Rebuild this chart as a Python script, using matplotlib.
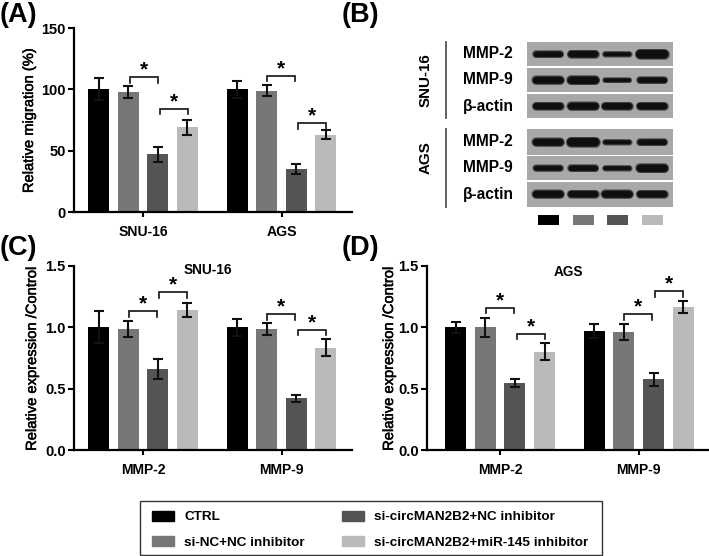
import matplotlib
matplotlib.use('Agg')
import matplotlib.pyplot as plt
from matplotlib.patches import Patch, Rectangle
import matplotlib.patheffects as pe

plt.rcParams['font.family'] = ['Liberation Sans', 'DejaVu Sans']
plt.rcParams['font.weight'] = 'bold'

W, H = 709, 556

# group colours
COLORS = ['#000000', '#777777', '#555555', '#bababa']
GROUP_NAMES = ['CTRL', 'si-NC+NC inhibitor', 'si-circMAN2B2+NC inhibitor', 'si-circMAN2B2+miR-145 inhibitor']

# panel A
a_vals = [100, 98, 47, 69, 100, 99, 35, 63]
a_errs = [9, 5, 6, 6, 7, 4.5, 4, 3.5]
a_labels = ['SNU-16', 'AGS']
a_brackets = [(1.05, 2.0, 110), (2.08, 3.02, 84), (5.70, 6.65, 111), (6.74, 7.68, 72.5)]

# panel C
c_vals = [1.0, 0.99, 0.66, 1.14, 1.0, 0.985, 0.42, 0.835]
c_errs = [0.13, 0.065, 0.08, 0.055, 0.07, 0.05, 0.03, 0.07]
c_labels = ['MMP-2', 'MMP-9']
c_brackets = [(1.02, 1.96, 1.13), (2.04, 2.97, 1.288), (5.69, 6.63, 1.108), (6.73, 7.67, 0.98)]

# panel D
d_vals = [1.0, 1.0, 0.545, 0.80, 0.97, 0.965, 0.575, 1.165]
d_errs = [0.045, 0.08, 0.035, 0.07, 0.06, 0.065, 0.05, 0.05]
d_labels = ['MMP-2', 'MMP-9']
d_brackets = [(1.02, 1.97, 1.158), (2.07, 3.0, 0.946), (5.69, 6.62, 1.108), (6.74, 7.68, 1.293)]

# blot band thickness (px), one row per blot strip
blot_rows = ['MMP-2', 'MMP-9', 'β-actin', 'MMP-2', 'MMP-9', 'β-actin']
blot_bands = [
    [4.5, 5.5, 3, 7.5],
    [6, 6.5, 2.5, 4.5],
    [5.5, 6, 5.5, 5.5],
    [6, 7.5, 3, 4.5],
    [4, 4.5, 3, 6.5],
    [6, 5.5, 6, 5.5],
]

X_POS = [0, 1, 2, 3, 4.68, 5.68, 6.68, 7.68]
X_TICKS = [1.5, 6.18]


def px_axes(fig, left, top, right, bottom):
    return fig.add_axes([left / W, 1 - bottom / H, (right - left) / W, (bottom - top) / H])


def bar_panel(fig, box, vals, errs, labels, brackets, ymax, yticks, ylabel, xlim, label_x, xpad):
    ax = px_axes(fig, *box)
    colors = COLORS + COLORS
    ax.bar(X_POS, vals, width=0.71, color=colors, yerr=errs,
           error_kw=dict(ecolor='#111111', elinewidth=1.5, capsize=3.8, capthick=1.5))
    ax.set_xlim(*xlim)
    ax.set_ylim(0, ymax)
    ax.set_yticks(yticks)
    ax.set_xticks(X_TICKS)
    ax.set_xticklabels(labels, fontsize=10.1)
    ax.tick_params(axis='y', length=4, width=1.5, labelsize=10.5, pad=2)
    ax.tick_params(axis='x', length=3.5, width=1.5, pad=xpad)
    yl = ax.set_ylabel(ylabel, fontsize=10.6, fontweight='normal')
    yl.set_path_effects([pe.withStroke(linewidth=0.35, foreground='black')])
    ax.yaxis.set_label_coords((label_x - box[0]) / (box[2] - box[0]), 0.5)
    for s in ['top', 'right']:
        ax.spines[s].set_visible(False)
    for s in ['left', 'bottom']:
        ax.spines[s].set_linewidth(1.6)
    for x1, x2, y in brackets:
        drop = ymax * 0.03
        ax.plot([x1, x1, x2, x2], [y - drop, y, y, y - drop], color='#111111', lw=1.2,
                solid_joinstyle='miter', clip_on=False)
        ax.text((x1 + x2) / 2, y - ymax * 0.012, '*', ha='center', va='bottom', fontsize=15)
    return ax


fig = plt.figure(figsize=(W / 100, H / 100), dpi=100)

ax_a = bar_panel(fig, (74, 28, 352, 212), a_vals, a_errs, a_labels, a_brackets,
                 150, [0, 50, 100, 150], 'Relative migration (%)', (-0.83, 8.56), 36, 6)
ax_c = bar_panel(fig, (74, 266, 352, 450), c_vals, c_errs, c_labels, c_brackets,
                 1.5, [0, 0.5, 1.0, 1.5], 'Relative expression /Control', (-0.83, 8.56), 39, 5.5)
ax_d = bar_panel(fig, (427, 266, 708, 450), d_vals, d_errs, d_labels, d_brackets,
                 1.5, [0, 0.5, 1.0, 1.5], 'Relative expression /Control', (-0.97, 8.52), 396, 5.5)
ax_c.text(0.482, 0.978, 'SNU-16', transform=ax_c.transAxes, ha='center', va='center', fontsize=9.8)
ax_d.text(0.505, 0.967, 'AGS', transform=ax_d.transAxes, ha='center', va='center', fontsize=9.8)

# overlay in pixel coordinates for panel letters and the blot
ov = fig.add_axes([0, 0, 1, 1])
ov.set_xlim(0, W)
ov.set_ylim(H, 0)
ov.axis('off')
ov.patch.set_alpha(0)

for s, x, y in [('(A)', 0, 15), ('(B)', 342, 15), ('(C)', 0, 248), ('(D)', 342, 248)]:
    ov.text(x, y, s, fontsize=19.5, va='center', ha='left')

strip_tops = [42, 68, 94, 129, 156, 182]
strip_h = [24, 24, 24, 26, 24, 25]
band_x = [548, 583, 617, 652]
for top, h, name, bands in zip(strip_tops, strip_h, blot_rows, blot_bands):
    ov.add_patch(Rectangle((527, top), 146, h, color='#a8a8a8', lw=0))
    mid = top + h / 2 - 0.5
    for x, t in zip(band_x, bands):
        # stacked strokes give the soft edge of a film band
        for extra in [3.5, 2.5, 1.5, 0.7, 0]:
            ov.plot([x - 12, x + 12], [mid, mid], color='black', alpha=0.38, lw=(t + extra) * 0.72,
                    solid_capstyle='round', zorder=3)
    ov.text(463, mid + 0.5, name, fontsize=11.2, va='center', ha='left')

ov.plot([446, 446], [42, 118], color='#555555', lw=1.3)
ov.plot([446, 446], [129, 207], color='#555555', lw=1.3)
ov.text(426, 80, 'SNU-16', rotation=90, fontsize=10.9, ha='center', va='center')
ov.text(426, 158, 'AGS', rotation=90, fontsize=10.9, ha='center', va='center')
for x, c in zip([538, 573, 607, 642], COLORS):
    ov.add_patch(Rectangle((x, 215), 21, 9.5, color=c, lw=0))

# legend under the panels, frame drawn separately so padding can differ per side
ov.add_patch(Rectangle((140, 501), 461.5, 54, facecolor='white', edgecolor='#333333', lw=1))
handles = [Patch(color=c, label=n) for c, n in zip(COLORS, GROUP_NAMES)]
leg = fig.legend(handles=handles, ncol=2, loc='lower left',
                 bbox_to_anchor=(152 / W, 7 / H), fontsize=9.7, frameon=False,
                 borderpad=0, labelspacing=0.97, handlelength=1.63, handleheight=0.74,
                 handletextpad=0.75, columnspacing=2.8, borderaxespad=0)

fig.savefig('out.png', dpi=100)
